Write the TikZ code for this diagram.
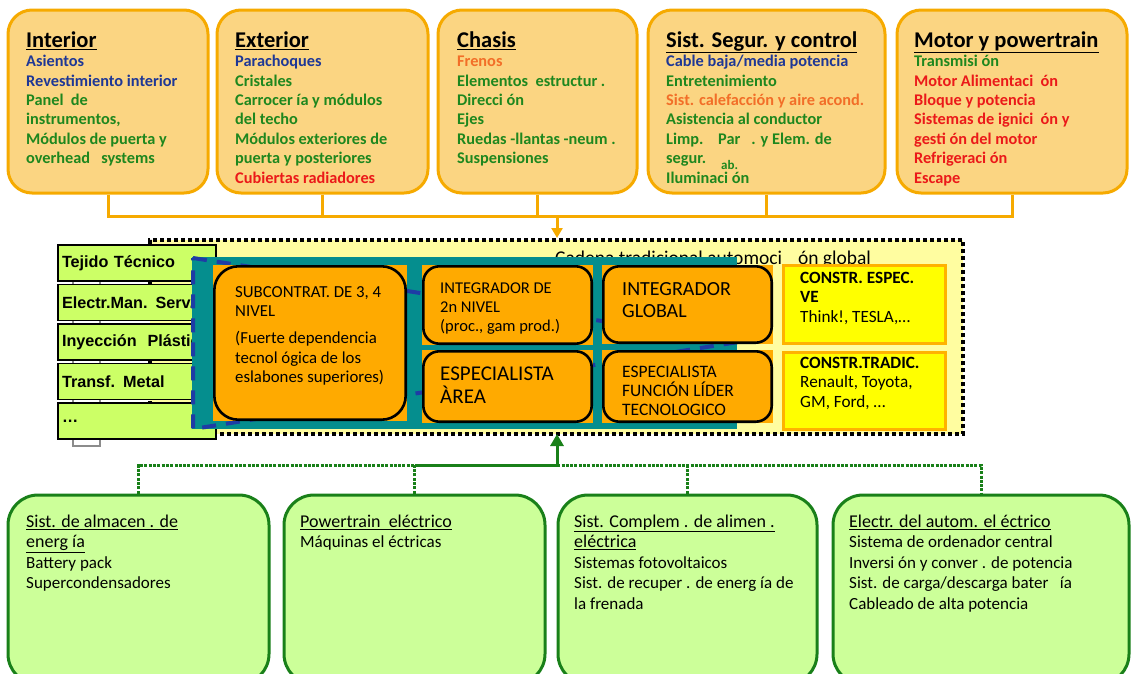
\documentclass[tikz,border=0pt]{standalone}
\usepackage{fontspec}
\setmainfont{Carlito}
\newfontfamily\stackfont{Liberation Sans}
\usetikzlibrary{arrows.meta,positioning}

\definecolor{boxorange}{RGB}{251,213,130}
\definecolor{lineorange}{RGB}{246,170,0}
\definecolor{txtblue}{RGB}{30,55,150}
\definecolor{txtgreen}{RGB}{30,135,30}
\definecolor{txtorange}{RGB}{242,110,40}
\definecolor{txtred}{RGB}{235,25,25}
\definecolor{chainyellow}{RGB}{255,253,160}
\definecolor{coreteal}{RGB}{5,142,142}
\definecolor{tierorange}{RGB}{255,170,0}
\definecolor{makeryellow}{RGB}{255,255,0}
\definecolor{makerborder}{RGB}{255,178,0}
\definecolor{stacklime}{RGB}{204,255,102}
\definecolor{evfill}{RGB}{204,255,153}
\definecolor{evgreen}{RGB}{25,128,25}
\definecolor{dashblue}{RGB}{30,60,165}

\newcommand{\capstrut}{\rule{0pt}{18pt}}
\newcommand{\boxtitle}[1]{{\color{black}\fontsize{22.5}{19.4}\selectfont\underline{#1}}}
\newcommand{\evtitle}[1]{{\fontsize{18}{20.5}\selectfont\underline{#1}}}
\newcommand{\inblue}[1]{\textcolor{txtblue}{#1}}
\newcommand{\ingreen}[1]{\textcolor{txtgreen}{#1}}
\newcommand{\inorange}[1]{\textcolor{txtorange}{#1}}
\newcommand{\inred}[1]{\textcolor{txtred}{#1}}

\tikzset{
  topbox/.style={draw=lineorange, line width=3pt, fill=boxorange, rounded corners=24pt, minimum height=183pt},
  toptext/.style={anchor=north west, inner sep=0pt, align=left, text=txtgreen, font=\bfseries\fontsize{16.3}{19.4}\selectfont},
  feed/.style={draw=lineorange, line width=3pt},
  chainframe/.style={fill=chainyellow, draw=black, line width=4pt, dash pattern=on 4pt off 3pt},
  chainlabel/.style={anchor=base west, inner sep=0pt, font=\fontsize{19.5}{20}\selectfont},
  stacktab/.style={fill=white, draw=black!45, line width=1.2pt},
  stackbox/.style={rectangle, draw=black, line width=1.5pt, fill=stacklime, minimum width=158pt, minimum height=36pt,
    text width=150pt, inner xsep=4pt, align=left, font=\stackfont\bfseries\fontsize{16.2}{18}\selectfont},
  corebg/.style={rectangle, fill=coreteal, inner sep=0pt},
  pyramid/.style={draw=dashblue, line width=4pt, dash pattern=on 14pt off 10pt},
  tierbox/.style={rectangle, fill=tierorange, inner sep=0pt,
    path picture={\draw[line width=2.6pt, rounded corners=#1]
      ([shift={(1.3pt,-1.3pt)}]path picture bounding box.north west) rectangle
      ([shift={(-1.3pt,1.3pt)}]path picture bounding box.south east);}},
  tierbox/.default=16pt,
  tiertext/.style={anchor=north west, inner sep=0pt, align=left, font=\fontsize{16.8}{19.3}\selectfont},
  makerbox/.style={rectangle, draw=makerborder, line width=3pt, fill=makeryellow},
  makertext/.style={anchor=north west, inner sep=0pt, align=left, font=\fontsize{17.2}{19.5}\selectfont},
  evbox/.style={draw=evgreen, line width=3pt, fill=evfill, rounded corners=30pt, minimum height=189pt},
  evtext/.style={anchor=north west, inner sep=0pt, align=left, font=\fontsize{17}{20.5}\selectfont},
  evline/.style={draw=evgreen, line width=3pt},
  evdot/.style={draw=evgreen, line width=3pt, dash pattern=on 3pt off 1.3pt}
}

\begin{document}
\begin{tikzpicture}[x=1pt,y=-1pt]
  \useasboundingbox (0,0) rectangle (1131,673);
  \clip (0,0) rectangle (1131,673);

  % Traditional chain
  \node[chainframe, minimum width=813pt, minimum height=194pt] (chain) at (556.5,337) {};
  \node[chainlabel] (chainlbl) at (555,264) {Cadena tradicional automoci\hspace{16pt}ón global};

  % Supplier stack
  \foreach \y in {281,320.5,360,399.5,439}
    \draw[stacktab] (73,\y) rectangle (100,\y+7);
  \foreach \n/\t/\y in {tej/Tejido Técnico/263, ele/Electr.Man. Serv./302.5,
      iny/Inyección\ \ Plástico/342, tra/Transf. Metal/381.5, etc/\ldots/421}
    \node[stackbox] (\n) at (137,\y) {\t};

  % Tiers
  \node[corebg, minimum width=545pt, minimum height=172pt] (core) at (464.5,343) {};
  \draw[pyramid] (193,258) -- (738,342) -- (193,429) -- cycle;
  \node[tierbox=24pt, minimum width=194pt, minimum height=156pt] (sub) at (310,343) {};
  \node[tierbox, minimum width=171pt, minimum height=80pt] (int2) at (507.5,305) {};
  \node[tierbox, minimum width=171pt, minimum height=73pt] (esa) at (507.5,386.5) {};
  \node[tierbox, minimum width=171pt, minimum height=79pt] (glo) at (687.5,304.5) {};
  \node[tierbox, minimum width=171pt, minimum height=73pt] (esf) at (687.5,386.5) {};
  \node[tiertext] (subT) at (235,279) {\capstrut SUBCONTRAT. DE 3, 4\\NIVEL\\[8pt](Fuerte dependencia\\tecnol ógica de los\\eslabones superiores)};
  \node[tiertext, font=\fontsize{16.5}{19}\selectfont] (int2T) at (440,275) {\capstrut INTEGRADOR DE\\2n NIVEL\\(proc., gam prod.)};
  \node[tiertext, font=\fontsize{20}{22}\selectfont] (gloT) at (622,277) {\capstrut INTEGRADOR\\GLOBAL};
  \node[tiertext, font=\fontsize{21}{23}\selectfont] (esaT) at (440,362) {\capstrut ESPECIALISTA\\ÀREA};
  \node[tiertext, font=\fontsize{17.5}{19}\selectfont] (esfT) at (622,359) {\capstrut ESPECIALISTA\\FUNCIÓN LÍDER\\TECNOLOGICO};

  % Manufacturers
  \node[makerbox, minimum width=162pt, minimum height=78pt] (cve) at (864,304) {};
  \node[makerbox, minimum width=162pt, minimum height=77pt] (ctr) at (864,390.5) {};
  \node[makertext] (cveT) at (800,265) {\capstrut\textbf{CONSTR. ESPEC.}\\\textbf{VE}\\Think!, TESLA,\ldots};
  \node[makertext] (ctrT) at (800,350) {\capstrut\textbf{CONSTR.TRADIC.}\\Renault, Toyota,\\GM, Ford, \ldots};

  % Vehicle families
  \node[topbox, minimum width=200pt] (int) at (108,101.5) {};
  \node[topbox, minimum width=211pt] (ext) at (322.5,101.5) {};
  \node[topbox, minimum width=199pt] (cha) at (537.5,101.5) {};
  \node[topbox, minimum width=237pt] (seg) at (766.5,101.5) {};
  \node[topbox, minimum width=230pt] (mot) at (1012,101.5) {};
  \node[toptext] (intT) at (26,29) {\capstrut\boxtitle{Interior}\\\inblue{Asientos}\\\inblue{Revestimiento interior}\\Panel\ \ de\\instrumentos,\\Módulos de puerta y\\overhead\ \ \ systems};
  \node[toptext] (extT) at (235,29) {\capstrut\boxtitle{Exterior}\\\inblue{Parachoques}\\Cristales\\Carrocer ía y módulos\\del techo\\Módulos exteriores de\\puerta y posteriores\\\inred{Cubiertas radiadores}};
  \node[toptext] (chaT) at (457,29) {\capstrut\boxtitle{Chasis}\\\inorange{Frenos}\\Elementos\ \ estructur .\\Direcci ón\\Ejes\\Ruedas -llantas -neum .\\Suspensiones};
  \node[toptext] (segT) at (666,29) {\capstrut\boxtitle{Sist. Segur. y control}\\\inblue{Cable baja/media potencia}\\Entretenimiento\\\inorange{Sist. calefacción y aire acond.}\\Asistencia al conductor\\Limp.\ \ \ \ Par\ \ \ . y Elem. de\\segur.\\Iluminaci ón};
  \node[anchor=base west, inner sep=0pt, text=txtgreen, font=\bfseries\fontsize{13}{14}\selectfont] (segab) at (721,169) {ab.};
  \node[toptext, text=txtred] (motT) at (914,29) {\capstrut\boxtitle{Motor y powertrain}\\\ingreen{Transmisi ón}\\Motor Alimentaci\ \ ón\\Bloque y potencia\\Sistemas de ignici\ \ ón y\\gesti ón del motor\\Refrigeraci ón\\Escape};

  % Feed into the chain
  \coordinate (topbus) at (557,216);
  \draw[feed] (int.south) |- (mot.south |- topbus) -- (mot.south);
  \foreach \b in {ext,cha,seg}
    \draw[feed] (\b.south) -- (\b.south |- topbus);
  \draw[feed, -{Triangle[width=11pt,length=10pt]}] (topbus) -- (topbus |- chain.north);

  % Electric vehicle families
  \node[evbox, minimum width=261pt] (bat) at (138.5,589.5) {};
  \node[evbox, minimum width=261pt] (pwt) at (414.5,589.5) {};
  \node[evbox, minimum width=259pt] (ali) at (687.5,589.5) {};
  \node[evbox, minimum width=296pt] (ele) at (981,589.5) {};
  \node[evtext] (batT) at (26,509) {\capstrut\evtitle{Sist. de almacen . de}\\\evtitle{energ ía}\\Battery pack\\Supercondensadores};
  \node[evtext] (pwtT) at (300,509) {\capstrut\evtitle{Powertrain\ \ eléctrico}\\Máquinas el éctricas};
  \node[evtext] (aliT) at (574,509) {\capstrut\evtitle{Sist. Complem . de alimen .}\\\evtitle{eléctrica}\\Sistemas fotovoltaicos\\Sist. de recuper . de energ ía de\\la frenada};
  \node[evtext] (eleT) at (849,509) {\capstrut\evtitle{Electr. del autom. el éctrico}\\Sistema de ordenador central\\Inversi ón y conver . de potencia\\Sist. de carga/descarga bater\ \ \ ía\\Cableado de alta potencia};

  % Feed from below
  \coordinate (evbus) at (557,465);
  \draw[evdot] (bat.north) |- (ele.north |- evbus) -- (ele.north);
  \foreach \b in {pwt,ali}
    \draw[evdot] (\b.north) -- (\b.north |- evbus);
  \draw[evline] (pwt.north |- evbus) -- (evbus);
  \draw[evline, -{Triangle[width=13pt,length=12pt]}, shorten >=-2pt] (evbus) -- (evbus |- chain.south);
\end{tikzpicture}
\end{document}
